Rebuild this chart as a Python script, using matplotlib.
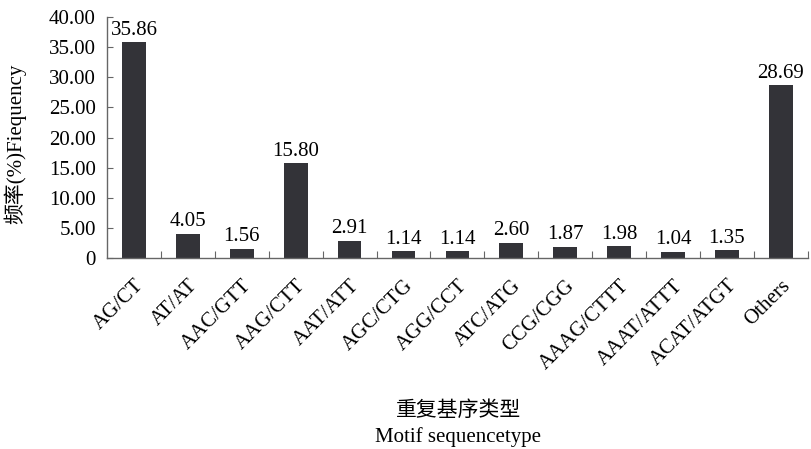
import matplotlib
matplotlib.use("Agg")
import matplotlib.pyplot as plt
from matplotlib.ticker import FuncFormatter, FixedLocator

plt.rcParams['font.family'] = ['Liberation Serif', 'Noto Sans CJK SC']

motifs = ["AG/CT", "AT/AT", "AAC/GTT", "AAG/CTT", "AAT/ATT", "AGC/CTG", "AGG/CCT",
          "ATC/ATG", "CCG/CGG", "AAAG/CTTT", "AAAT/ATTT", "ACAT/ATGT", "Others"]
freq = [35.86, 4.05, 1.56, 15.80, 2.91, 1.14, 1.14, 2.60, 1.87, 1.98, 1.04, 1.35, 28.69]
yticks = [0, 5, 10, 15, 20, 25, 30, 35, 40]

BAR = "#333338"
AXC = "#666666"
FS = 15

fig = plt.figure(figsize=(8.11, 4.49), dpi=100)
ax = fig.add_axes([0.132, 0.425, 0.864, 0.537])

x = list(range(len(motifs)))
ax.bar(x, freq, width=0.44, color=BAR, zorder=2)
for xi, v in zip(x, freq):
    ax.text(xi, v + 0.4, "%.2f" % v, ha="center", va="bottom", fontsize=FS)

ax.set_xlim(-0.5, len(motifs) - 0.5)
ax.set_ylim(0, 40)
ax.yaxis.set_major_locator(FixedLocator(yticks))
ax.yaxis.set_major_formatter(FuncFormatter(lambda v, p: "0" if v == 0 else "%.2f" % v))

# category boundaries carry the x ticks, labels sit under the bars
ax.set_xticks([i + 0.5 for i in x])
ax.set_xticklabels([])
ax.set_xticks(x, minor=True)
ax.set_xticklabels(motifs, minor=True, rotation=45, ha="right", va="top",
                   rotation_mode="anchor", fontsize=FS)
ax.tick_params(axis="x", which="minor", length=0, pad=13)
ax.tick_params(axis="x", which="major", direction="in", length=5, color=AXC)
ax.tick_params(axis="y", direction="in", length=4, color=AXC, labelsize=FS, pad=8)

for s in ("top", "right"):
    ax.spines[s].set_visible(False)
for s in ("left", "bottom"):
    ax.spines[s].set_color(AXC)
    ax.spines[s].set_linewidth(1.0)

fig.text(0.018, 0.68, "频率(%)Fiequency", rotation=90, ha="center", va="center", fontsize=FS)
fig.text(0.565, 0.085, "重复基序类型", ha="center", va="center", fontsize=FS)
fig.text(0.565, 0.027, "Motif sequencetype", ha="center", va="center", fontsize=FS)

fig.savefig("out.png", dpi=100)
